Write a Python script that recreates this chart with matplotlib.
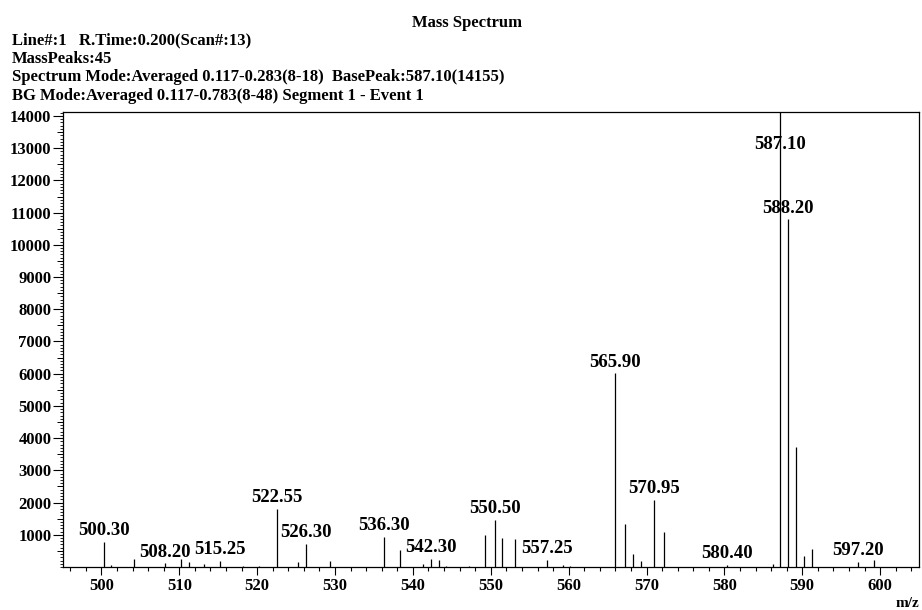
import matplotlib
matplotlib.use('Agg')
import matplotlib.pyplot as plt
from matplotlib.ticker import MultipleLocator

# peak list (m/z, intensity)
mz = [500.30, 501.20, 504.20, 508.20, 510.20, 511.20, 513.20, 515.25, 518.20, 520.20,
      522.55, 525.20, 526.30, 529.30, 536.30, 538.30, 541.30, 542.30, 543.30, 544.30,
      547.20, 549.30, 550.50, 551.50, 553.10, 557.25, 559.30, 560.20, 565.90, 567.30,
      568.30, 569.30, 570.95, 572.30, 580.40, 586.30, 587.10, 588.20, 589.20, 590.20,
      591.20, 597.20, 599.20]
intensity = [790, 60, 240, 110, 240, 140, 100, 180, 30, 20,
             1810, 150, 710, 190, 930, 540, 100, 250, 210, 30,
             30, 1000, 1460, 900, 870, 210, 60, 20, 6010, 1320,
             390, 200, 2090, 1090, 60, 95, 14155, 10790, 3740, 330,
             570, 155, 210]
labelled = [500.30, 508.20, 515.25, 522.55, 526.30, 536.30, 542.30, 550.50,
            557.25, 565.90, 570.95, 580.40, 587.10, 588.20, 597.20]

header = ["Line#:1   R.Time:0.200(Scan#:13)",
          "MassPeaks:45",
          "Spectrum Mode:Averaged 0.117-0.283(8-18)  BasePeak:587.10(14155)",
          "BG Mode:Averaged 0.117-0.783(8-48) Segment 1 - Event 1"]

plt.rcParams['font.family'] = ['Liberation Serif', 'DejaVu Serif']
plt.rcParams['font.weight'] = 'bold'

fig = plt.figure(figsize=(9.22, 6.10), dpi=100)
ax = fig.add_axes([0.0678, 0.0705, 0.929, 0.746])

ax.vlines(mz, 0, intensity, color='black', lw=0.9)

ytop = 14125
for m in labelled:
    i = intensity[mz.index(m)]
    ax.annotate(f'{m:.2f}', xy=(m, min(i, 12750)), xytext=(0, 2),
                textcoords='offset points', ha='center', va='bottom',
                fontsize=13.5, fontweight='bold')

ax.set_xlim(495, 605)
ax.set_ylim(0, ytop)

ax.xaxis.set_major_locator(MultipleLocator(10))
ax.xaxis.set_minor_locator(MultipleLocator(2))
ax.yaxis.set_major_locator(MultipleLocator(1000))
ax.yaxis.set_minor_locator(MultipleLocator(100))
ax.set_yticks(range(1000, 14001, 1000))
ax.set_xticks(range(500, 601, 10))

ax.tick_params(axis='x', which='major', length=6, width=0.8, pad=2, labelsize=12)
ax.tick_params(axis='x', which='minor', length=3, width=0.8)
ax.tick_params(axis='y', which='major', length=7, width=0.8, pad=1, labelsize=12)
ax.tick_params(axis='y', which='minor', length=2, width=0.6)

# medium ticks every 500 on the intensity axis
sec = ax.secondary_yaxis('left')
sec.set_yticks(range(500, 14001, 1000))
sec.tick_params(length=4, width=0.7, labelleft=False)
sec.spines['left'].set_visible(False)

for s in ax.spines.values():
    s.set_linewidth(0.9)

for lab in ax.get_xticklabels() + ax.get_yticklabels():
    lab.set_fontweight('bold')

fig.text(0.997, 0.0, 'm/z', ha='right', va='bottom', fontsize=11, fontweight='bold')
fig.text(0.506, 0.963, 'Mass Spectrum', ha='center', va='center', fontsize=12, fontweight='bold')
for k, line in enumerate(header):
    fig.text(0.013, 0.934 - k * 0.0303, line, ha='left', va='center', fontsize=12,
             fontweight='bold')

fig.savefig('out.png', dpi=100)
